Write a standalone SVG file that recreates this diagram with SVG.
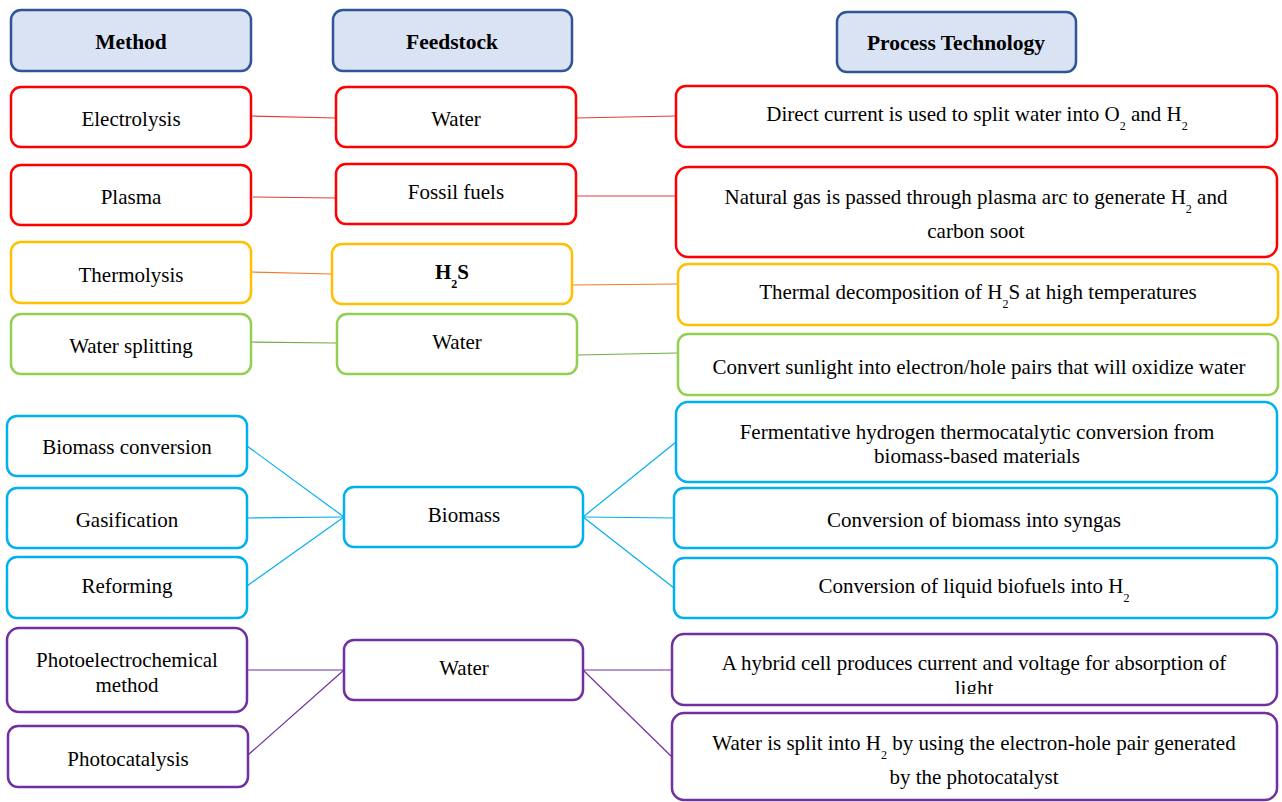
<svg xmlns="http://www.w3.org/2000/svg" width="1282" height="802" viewBox="0 0 1282 802">
  <style>
    text { font-family: "Liberation Serif", "DejaVu Serif", serif; font-size: 21px; fill: #000; text-anchor: middle; }
    .hdr rect { fill: #dae3f3; stroke: #2f5597; stroke-width: 2.5; }
    .hdr text { font-weight: bold; font-size: 21.5px; }
    rect { fill: #fff; stroke-width: 2.5; }
    .red rect { stroke: #ff0000; }
    .yel rect { stroke: #ffc000; }
    .grn rect { stroke: #92d050; }
    .blu rect { stroke: #00b0f0; }
    .pur rect { stroke: #7030a0; }
    .sub { font-size: 12px; }
    #connectors line { stroke-width: 1.2; fill: none; }
    .c-red { stroke: #e83a3a; }
    .c-org { stroke: #ed7d31; }
    .c-grn { stroke: #70ad47; }
    .c-blu { stroke: #00b0f0; }
    .c-pur { stroke: #7030a0; }
  </style>
  <defs>
    <clipPath id="hybridClip">
      <rect x="672" y="634" width="606" height="60"/>
    </clipPath>
  </defs>

  <rect x="0" y="0" width="1282" height="802" style="fill:#fff;stroke:none"/>

  <!-- connectors -->
  <g id="connectors">
    <line class="c-red" x1="251" y1="116" x2="336" y2="118"/>
    <line class="c-red" x1="576" y1="118" x2="676" y2="116"/>
    <line class="c-red" x1="253" y1="197" x2="336" y2="198"/>
    <line class="c-red" x1="576" y1="196" x2="676" y2="196"/>
    <line class="c-org" x1="251" y1="272" x2="332" y2="274"/>
    <line class="c-org" x1="572" y1="285" x2="678" y2="284"/>
    <line class="c-grn" x1="251" y1="342" x2="336" y2="343"/>
    <line class="c-grn" x1="577" y1="355" x2="678" y2="353"/>
    <line class="c-blu" x1="247" y1="446" x2="344" y2="517"/>
    <line class="c-blu" x1="247" y1="518" x2="344" y2="517"/>
    <line class="c-blu" x1="247" y1="586" x2="344" y2="517"/>
    <line class="c-blu" x1="583" y1="517" x2="676" y2="442"/>
    <line class="c-blu" x1="583" y1="517" x2="674" y2="518"/>
    <line class="c-blu" x1="583" y1="517" x2="674" y2="588"/>
    <line class="c-pur" x1="247" y1="670" x2="344" y2="670"/>
    <line class="c-pur" x1="248" y1="755" x2="344" y2="670"/>
    <line class="c-pur" x1="583" y1="670" x2="672" y2="670"/>
    <line class="c-pur" x1="583" y1="670" x2="672" y2="757"/>
  </g>

  <!-- column headers -->
  <g id="hdr-method" class="hdr">
    <rect x="11" y="10" width="240" height="61" rx="10"/>
    <text x="131" y="49">Method</text>
  </g>
  <g id="hdr-feedstock" class="hdr">
    <rect x="333" y="10" width="239" height="61" rx="10"/>
    <text x="452" y="49">Feedstock</text>
  </g>
  <g id="hdr-process" class="hdr">
    <rect x="837" y="12" width="239" height="60" rx="10"/>
    <text x="956" y="50">Process Technology</text>
  </g>

  <!-- electrolysis -->
  <g id="m-electrolysis" class="red">
    <rect x="11" y="87" width="240" height="60" rx="10"/>
    <text x="131" y="126">Electrolysis</text>
  </g>
  <g id="f-water1" class="red">
    <rect x="336" y="87" width="240" height="60" rx="10"/>
    <text x="456" y="126">Water</text>
  </g>
  <g id="p-direct-current" class="red">
    <rect x="676" y="86" width="601" height="61" rx="10"/>
    <text x="977" y="121">Direct current is used to split water into O<tspan class="sub" dy="9">2</tspan><tspan dy="-9"> and H</tspan><tspan class="sub" dy="9">2</tspan></text>
  </g>

  <!-- plasma -->
  <g id="m-plasma" class="red">
    <rect x="11" y="165" width="240" height="60" rx="10"/>
    <text x="131" y="204">Plasma</text>
  </g>
  <g id="f-fossil" class="red">
    <rect x="336" y="164" width="240" height="60" rx="10"/>
    <text x="456" y="199">Fossil fuels</text>
  </g>
  <g id="p-natural-gas" class="red">
    <rect x="676" y="167" width="601" height="90" rx="12"/>
    <text x="976" y="204">Natural gas is passed through plasma arc to generate H<tspan class="sub" dy="9">2</tspan><tspan dy="-9"> and</tspan></text>
    <text x="976" y="238">carbon soot</text>
  </g>

  <!-- thermolysis -->
  <g id="m-thermolysis" class="yel">
    <rect x="11" y="242" width="240" height="61" rx="10"/>
    <text x="131" y="282">Thermolysis</text>
  </g>
  <g id="f-h2s" class="yel">
    <rect x="332" y="244" width="240" height="60" rx="10"/>
    <text x="452" y="279" style="font-weight:bold">H<tspan class="sub" dy="9">2</tspan><tspan dy="-9">S</tspan></text>
  </g>
  <g id="p-thermal" class="yel">
    <rect x="678" y="264" width="600" height="61" rx="10"/>
    <text x="978" y="299">Thermal decomposition of H<tspan class="sub" dy="9">2</tspan><tspan dy="-9">S at high temperatures</tspan></text>
  </g>

  <!-- water splitting -->
  <g id="m-water-splitting" class="grn">
    <rect x="11" y="314" width="240" height="60" rx="10"/>
    <text x="131" y="353">Water splitting</text>
  </g>
  <g id="f-water2" class="grn">
    <rect x="337" y="314" width="240" height="60" rx="10"/>
    <text x="457" y="349">Water</text>
  </g>
  <g id="p-sunlight" class="grn">
    <rect x="678" y="334" width="600" height="61" rx="10"/>
    <text x="979" y="374">Convert sunlight into electron/hole pairs that will oxidize water</text>
  </g>

  <!-- biomass -->
  <g id="m-biomass-conversion" class="blu">
    <rect x="7" y="416" width="240" height="60" rx="10"/>
    <text x="127" y="454">Biomass conversion</text>
  </g>
  <g id="m-gasification" class="blu">
    <rect x="7" y="488" width="240" height="60" rx="10"/>
    <text x="127" y="527">Gasification</text>
  </g>
  <g id="m-reforming" class="blu">
    <rect x="7" y="557" width="240" height="61" rx="10"/>
    <text x="127" y="593">Reforming</text>
  </g>
  <g id="f-biomass" class="blu">
    <rect x="344" y="487" width="239" height="60" rx="10"/>
    <text x="464" y="522">Biomass</text>
  </g>
  <g id="p-fermentative" class="blu">
    <rect x="676" y="402" width="601" height="80" rx="12"/>
    <text x="977" y="439">Fermentative hydrogen thermocatalytic conversion from</text>
    <text x="977" y="463">biomass-based materials</text>
  </g>
  <g id="p-syngas" class="blu">
    <rect x="674" y="488" width="603" height="60" rx="10"/>
    <text x="974" y="527">Conversion of biomass into syngas</text>
  </g>
  <g id="p-biofuels" class="blu">
    <rect x="674" y="558" width="603" height="60" rx="10"/>
    <text x="974" y="593">Conversion of liquid biofuels into H<tspan class="sub" dy="9">2</tspan></text>
  </g>

  <!-- photo-driven water splitting -->
  <g id="m-photoelectrochemical" class="pur">
    <rect x="7" y="628" width="240" height="84" rx="12"/>
    <text x="127" y="667">Photoelectrochemical</text>
    <text x="127" y="692">method</text>
  </g>
  <g id="m-photocatalysis" class="pur">
    <rect x="8" y="726" width="240" height="61" rx="10"/>
    <text x="128" y="766">Photocatalysis</text>
  </g>
  <g id="f-water3" class="pur">
    <rect x="344" y="640" width="239" height="60" rx="10"/>
    <text x="464" y="675">Water</text>
  </g>
  <g id="p-hybrid" class="pur">
    <rect x="672" y="634" width="605" height="71" rx="12"/>
    <g clip-path="url(#hybridClip)">
      <text x="974" y="670">A hybrid cell produces current and voltage for absorption of</text>
      <text x="974" y="695">light</text>
    </g>
  </g>
  <g id="p-photocatalyst" class="pur">
    <rect x="672" y="713" width="605" height="87" rx="12"/>
    <text x="974" y="750">Water is split into H<tspan class="sub" dy="9">2</tspan><tspan dy="-9"> by using the electron-hole pair generated</tspan></text>
    <text x="974" y="784">by the photocatalyst</text>
  </g>
</svg>
